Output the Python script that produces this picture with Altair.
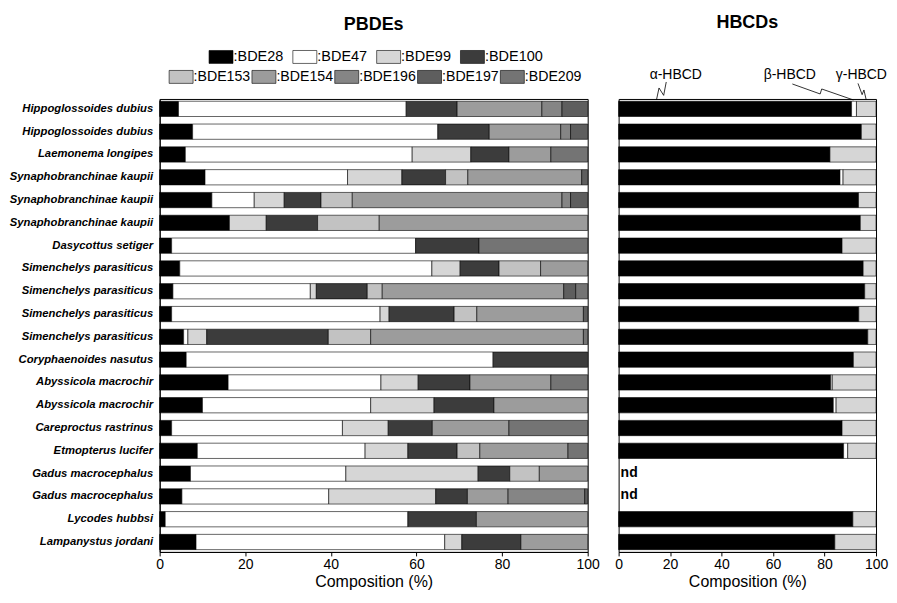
import json
import altair as alt
import pandas as pd

FONT = "Liberation Sans"

species = ["Hippoglossoides dubius", "Hippoglossoides dubius", "Laemonema longipes",
           "Synaphobranchinae kaupii", "Synaphobranchinae kaupii", "Synaphobranchinae kaupii",
           "Dasycottus setiger", "Simenchelys parasiticus", "Simenchelys parasiticus",
           "Simenchelys parasiticus", "Simenchelys parasiticus", "Coryphaenoides nasutus",
           "Abyssicola macrochir", "Abyssicola macrochir", "Careproctus rastrinus",
           "Etmopterus lucifer", "Gadus macrocephalus", "Gadus macrocephalus",
           "Lycodes hubbsi", "Lampanystus jordani"]

pbde_names = ["BDE28", "BDE47", "BDE99", "BDE100", "BDE153", "BDE154", "BDE196", "BDE197", "BDE209"]
bde28 = [4.4, 7.7, 6.0, 10.6, 12.2, 16.3, 2.8, 4.7, 3.1, 2.8, 5.6, 6.2, 16.0, 10.0, 2.8, 8.8, 7.2, 5.2, 1.3, 8.5]
bde47 = [53.2, 57.3, 53.0, 33.3, 9.9, 0, 57.0, 58.9, 32.1, 48.7, 1.0, 71.7, 35.7, 39.3, 39.9, 39.2, 36.3, 34.3, 56.7, 58.1]
bde99 = [0, 0, 13.7, 12.7, 7.0, 8.6, 0, 6.6, 1.4, 2.1, 4.4, 0, 8.7, 14.8, 10.7, 10.0, 30.9, 25.0, 0, 4.0]
bde100 = [11.9, 12.0, 8.9, 10.2, 8.6, 12.0, 14.8, 9.1, 11.9, 15.2, 28.4, 22.1, 12.1, 14.0, 10.3, 11.5, 7.4, 7.4, 16.0, 13.8]
bde153 = [0, 0, 0, 5.2, 7.3, 14.4, 0, 9.7, 3.5, 5.3, 9.9, 0, 0, 0, 0, 5.3, 6.9, 0, 0, 0]
bde154 = [19.8, 16.7, 9.8, 26.6, 49.0, 48.7, 0, 11.0, 42.4, 24.9, 49.7, 0, 18.9, 21.9, 17.9, 20.6, 11.3, 9.5, 26.0, 15.6]
bde196 = [4.7, 2.3, 0, 0, 2.0, 0, 0, 0, 0, 0, 0, 0, 0, 0, 0, 0, 0, 17.9, 0, 0]
bde197 = [6.0, 4.0, 0, 1.4, 4.0, 0, 0, 0, 2.8, 1.0, 0, 0, 0, 0, 0, 0, 0, 0.7, 0, 0]
bde209 = [0, 0, 8.6, 0, 0, 0, 25.4, 0, 2.8, 0, 1.0, 0, 8.6, 0, 18.4, 4.6, 0, 0, 0, 0]

hbcd_names = ["α-HBCD", "β-HBCD", "γ-HBCD"]
alpha = [90.5, 94.3, 82.1, 86.0, 93.2, 93.9, 86.8, 95.0, 95.6, 93.3, 96.8, 91.2, 82.4, 83.4, 86.8, 87.4, None, None, 91.0, 84.0]
beta = [1.9, 0, 0, 1.2, 0, 0, 0, 0, 0, 0, 0, 0, 0.6, 1.1, 0, 1.6, None, None, 0, 0]
gamma = [7.6, 5.7, 17.9, 12.8, 6.8, 6.1, 13.2, 5.0, 4.4, 6.7, 3.2, 8.8, 17.0, 15.5, 13.2, 11.0, None, None, 9.0, 16.0]

# grey tones standing in for the hatch patterns
pbde_fill = ["#000000", "#ffffff", "#d6d6d6", "#3c3c3c", "#c2c2c2", "#9c9c9c", "#858585", "#5e5e5e", "#747474"]
hbcd_fill = ["#000000", "#ffffff", "#d6d6d6"]

# annotation label positions (x in %) and leader-line vertices
ann_x = [22.2, 66.5, 94.3]
lead_lab = ["a"] * 4 + ["b"] * 4 + ["g"] * 4
lead_k = [0, 1, 2, 3] * 3
lead_x = [14.7, 15.7, 17.5, 18.5, 91.2, 78.9, 78.3, 67.5, 96.2, 95.3, 94.6, 93.0]
lead_y = [1, -11, -3.6, -17, 1, -10, -5, -15, 1, -9, -4.3, -15.6]

pbde_series = [bde28, bde47, bde99, bde100, bde153, bde154, bde196, bde197, bde209]
rows = []
for ci, (name, vals) in enumerate(zip(pbde_names, pbde_series)):
    for r, v in enumerate(vals):
        rows.append({"row": r, "comp": name, "ci": ci, "value": v})
pdf = pd.DataFrame(rows)

hrows = []
for ci, (name, vals) in enumerate(zip(hbcd_names, [alpha, beta, gamma])):
    for r, v in enumerate(vals):
        if v is not None:
            hrows.append({"row": r, "comp": name, "ci": ci, "value": v})
hdf = pd.DataFrame(hrows)
nd_df = pd.DataFrame({"row": [r for r, v in enumerate(alpha) if v is None], "t": "nd"})
ann_df = pd.DataFrame({"tx": ann_x, "t": hbcd_names})
lead_df = pd.DataFrame({"lab": lead_lab, "k": lead_k, "lx": lead_x, "ly": lead_y})

names_expr = json.dumps(species) + "[datum.value]"

W1, W2, H = 429, 258, 454
yscale = alt.Scale(paddingInner=0.33, paddingOuter=0.1)
xscale = alt.Scale(domain=[0, 100], nice=False)
xaxis = alt.Axis(values=[0, 20, 40, 60, 80, 100], title="Composition (%)", grid=False,
                 labelFontSize=14, titleFontSize=16, titleFontWeight="normal",
                 tickSize=4, labelPadding=2, titlePadding=2, labelFlush=False)
yaxis = alt.Axis(title=None, ticks=False, labelExpr=names_expr, labelFontSize=11.3,
                 labelFontStyle="italic", labelFontWeight="bold", labelPadding=7,
                 domain=True)

pbase = alt.Chart(pdf).transform_filter(alt.datum.value > 0).transform_stack(
    stack="value", groupby=["row"], as_=["x0", "x1"],
    sort=[alt.SortField("ci", order="ascending")])


def pbde_layer(lo, hi, legend):
    dom = pbde_names[lo:hi]
    rng = pbde_fill[lo:hi]
    return pbase.transform_filter((alt.datum.ci >= lo) & (alt.datum.ci < hi)).mark_bar(
        stroke="black", strokeWidth=0.6).encode(
        y=alt.Y("row:O", scale=yscale, axis=yaxis),
        x=alt.X("x0:Q", scale=xscale, axis=xaxis),
        x2="x1:Q",
        fill=alt.Fill("comp:N", scale=alt.Scale(domain=dom, range=rng), legend=legend),
    )


leg_common = dict(orient="none", direction="horizontal", title=None,
                  symbolType="M-1,-0.54H1V0.54H-1Z", symbolSize=576,
                  symbolStrokeColor="black", symbolStrokeWidth=0.6, symbolOpacity=1,
                  labelOffset=0, labelExpr="':' + datum.label",
                  labelFont=FONT, labelColor="black")
leg1 = alt.Legend(columns=4, columnPadding=8, legendX=49, legendY=-55, labelFontSize=14.5, **leg_common)
leg2 = alt.Legend(columns=5, columnPadding=0, legendX=9, legendY=-35, labelFontSize=14.2, **leg_common)

pbde = alt.layer(pbde_layer(0, 4, leg1), pbde_layer(4, 9, leg2)).resolve_scale(
    fill="independent").properties(
    width=W1, height=H,
    title=alt.TitleParams("PBDEs", fontSize=18, fontWeight="bold", font=FONT,
                          offset=-4, anchor="middle", baseline="alphabetic"))

hy = alt.Scale(domain=list(range(20)), paddingInner=0.33, paddingOuter=0.1)
hbars = alt.Chart(hdf).transform_filter(alt.datum.value > 0).transform_stack(
    stack="value", groupby=["row"], as_=["x0", "x1"],
    sort=[alt.SortField("ci", order="ascending")]).mark_bar(
    stroke="black", strokeWidth=0.6).encode(
    y=alt.Y("row:O", scale=hy, axis=None),
    x=alt.X("x0:Q", scale=xscale, axis=xaxis),
    x2="x1:Q",
    fill=alt.Fill("comp:N", scale=alt.Scale(domain=hbcd_names, range=hbcd_fill), legend=None),
)
nd = alt.Chart(nd_df).mark_text(align="left", baseline="middle", dx=2, fontSize=14,
                                fontWeight="bold", font=FONT, color="black").encode(
    y=alt.Y("row:O", scale=hy, axis=None),
    x=alt.value(0),
    text="t:N",
)
ann = alt.Chart(ann_df).mark_text(baseline="middle", fontSize=14, font=FONT, color="black").encode(
    x=alt.X("tx:Q", scale=xscale, axis=xaxis),
    y=alt.value(-24),
    text="t:N",
)
lead = alt.Chart(lead_df).mark_line(color="black", strokeWidth=0.8).encode(
    x=alt.X("lx:Q", scale=xscale, axis=xaxis),
    y=alt.Y("ly:Q", scale=None, axis=None),
    detail="lab:N",
    order="k:Q",
)
hbcd = alt.layer(hbars, nd, ann, lead).resolve_scale(y="independent").properties(
    width=W2, height=H,
    title=alt.TitleParams("HBCDs", fontSize=18, fontWeight="bold", font=FONT,
                          offset=22, anchor="middle", baseline="alphabetic"))

chart = alt.hconcat(pbde, hbcd, spacing=31, bounds="flush").properties(
    padding={"left": 0, "top": 4.5, "right": 0, "bottom": 0}
).configure(font=FONT).configure_view(stroke="black", strokeWidth=1).configure_axis(
    domainColor="black", tickColor="black", labelColor="black", titleColor="black",
    labelFont=FONT, titleFont=FONT, domainWidth=1
)

chart.save("out.html", embed_options={"renderer": "svg", "actions": False})
